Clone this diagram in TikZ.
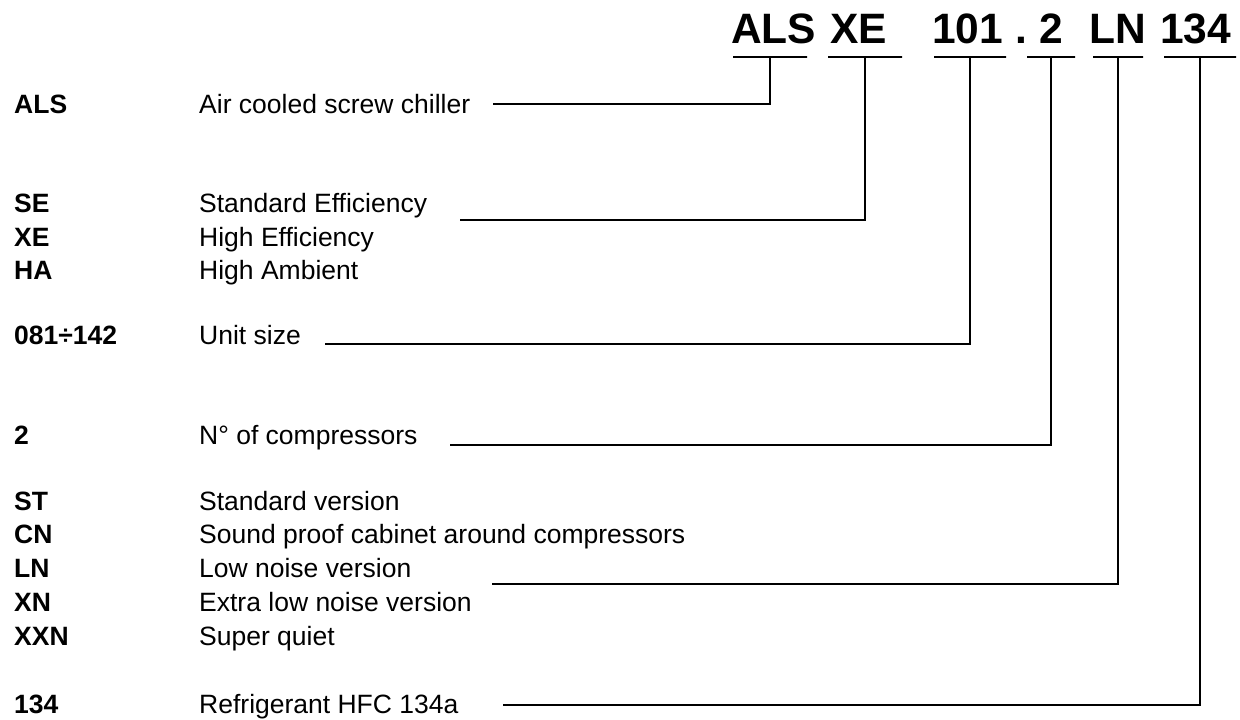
\documentclass[tikz,border=0pt]{standalone}
\usepackage{fontspec}
\setmainfont{Liberation Sans}
\usepackage{tikz}
\usetikzlibrary{positioning}
\definecolor{inkline}{HTML}{000000}
\tikzset{
  % --- model code in the title ---
  headcode/.style={font=\bfseries\fontsize{42.5}{48}\selectfont, inner sep=0pt,
                   anchor=base west},
  codebar/.style={draw=inkline, line width=1.6pt, minimum height=0pt,
                  inner sep=0pt, minimum width=#1},
  % --- legend rows ---
  keycode/.style={font=\bfseries\fontsize{26.5}{30}\selectfont, inner sep=0pt,
                  anchor=base west},
  keytext/.style={font=\fontsize{26.5}{30}\selectfont, inner sep=0pt,
                  anchor=base west},
  leader/.style={draw=inkline, line width=1.6pt},
}
\begin{document}
\begin{tikzpicture}[x=1pt, y=-1pt]
  \useasboundingbox (0,0) rectangle (1240,720);
  % title code
  \node[headcode] (hALS) at (731,43) {ALS};
  \node[headcode] (hXE)  at (830,43) {XE};
  \node[headcode] (h101) at (932,43) {101};
  \node[headcode] (hDot) at (1015,43) {.};
  \node[headcode] (h2)   at (1039,43) {2};
  \node[headcode] (hLN)  at (1089,43) {LN};
  \node[headcode] (h134) at (1160,43) {134};
  \node[codebar=74pt] (uALS) at (770,57) {};
  \node[codebar=74pt] (uXE)  at (865,57) {};
  \node[codebar=72pt] (u101) at (970,57) {};
  \node[codebar=48pt] (u2)   at (1051,57) {};
  \node[codebar=50pt] (uLN)  at (1118,57) {};
  \node[codebar=72pt] (u134) at (1200,57) {};
  % legend
  \node[keycode] (kALS) at (14,113) {ALS};
  \node[keytext] (tALS) at (199,113) {Air cooled screw chiller};
  \node[keycode] (kSE)  at (14,212) {SE};
  \node[keytext] (tSE)  at (199,212) {Standard Efficiency};
  \node[keycode] (kXE)  at (14,246) {XE};
  \node[keytext] (tXE)  at (199,246) {High Efficiency};
  \node[keycode] (kHA)  at (14,279) {HA};
  \node[keytext] (tHA)  at (199,279) {High Ambient};
  \node[keycode] (k101) at (14,344) {081÷142};
  \node[keytext] (t101) at (199,344) {Unit size};
  \node[keycode] (k2)   at (14,444) {2};
  \node[keytext] (t2)   at (199,444) {N° of compressors};
  \node[keycode] (kST)  at (14,510) {ST};
  \node[keytext] (tST)  at (199,510) {Standard version};
  \node[keycode] (kCN)  at (14,543) {CN};
  \node[keytext] (tCN)  at (199,543) {Sound proof cabinet around compressors};
  \node[keycode] (kLN)  at (14,577) {LN};
  \node[keytext] (tLN)  at (199,577) {Low noise version};
  \node[keycode] (kXN)  at (14,611) {XN};
  \node[keytext] (tXN)  at (199,611) {Extra low noise version};
  \node[keycode] (kXXN) at (14,645) {XXN};
  \node[keytext] (tXXN) at (199,645) {Super quiet};
  \node[keycode] (k134) at (14,713) {134};
  \node[keytext] (t134) at (199,713) {Refrigerant HFC 134a};
  % leader lines
  \coordinate (eALS) at (493,104);
  \coordinate (eXE)  at (460,220);
  \coordinate (e101) at (325,344);
  \coordinate (e2)   at (450,445);
  \coordinate (eLN)  at (492,584);
  \coordinate (e134) at (503,705);
  \draw[leader] (eALS) -| (uALS);
  \draw[leader] (eXE)  -| (uXE);
  \draw[leader] (e101) -| (u101);
  \draw[leader] (e2)   -| (u2);
  \draw[leader] (eLN)  -| (uLN);
  \draw[leader] (e134) -| (u134);
\end{tikzpicture}
\end{document}
